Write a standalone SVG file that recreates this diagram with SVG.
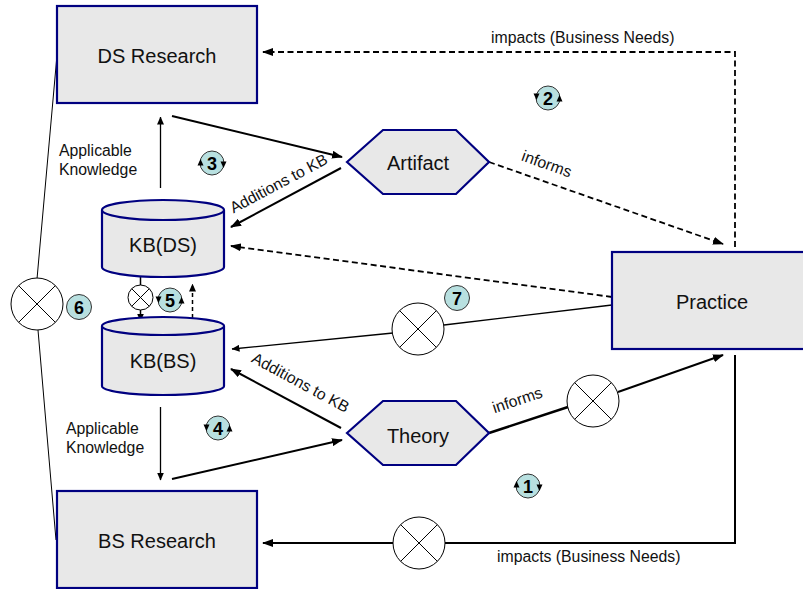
<svg xmlns="http://www.w3.org/2000/svg" width="803" height="589" viewBox="0 0 803 589">
<style>
.box{fill:#e8e8e8;stroke:#000080;stroke-width:2.2}
.lbl{font-family:"Liberation Sans",Arial,sans-serif;font-size:20px;fill:#111;text-anchor:middle}
.sm{font-family:"Liberation Sans",Arial,sans-serif;font-size:15.8px;fill:#111}
.c{fill:none;stroke:#000;stroke-width:2}
.thin{fill:none;stroke:#000;stroke-width:1.3}
.dash{fill:none;stroke:#000;stroke-width:1.8;stroke-dasharray:6,3.5}
.xc{fill:#fff;stroke:#000;stroke-width:1}
.xl{stroke:#000;stroke-width:1}
.badge{fill:#b8e0e0;stroke:#333;stroke-width:1}
.num{font-family:"Liberation Sans",Arial,sans-serif;font-size:18px;font-weight:bold;fill:#000;text-anchor:middle}
</style>
<defs>
<marker id="ah" markerWidth="11" markerHeight="8" refX="10" refY="4" orient="auto" markerUnits="userSpaceOnUse"><path d="M0,0 L11,4 L0,8 Z" fill="#000"/></marker>
<marker id="ahs" markerWidth="8" markerHeight="7" refX="7.5" refY="3.5" orient="auto" markerUnits="userSpaceOnUse"><path d="M0,0 L8,3.5 L0,7 Z" fill="#000"/></marker>
<g id="xcircle"><circle r="26" class="xc"/><line x1="-18.4" y1="-18.4" x2="18.4" y2="18.4" class="xl"/><line x1="-18.4" y1="18.4" x2="18.4" y2="-18.4" class="xl"/></g>
<path id="up" d="M-3,2.5 L3,2.5 L0,-4 Z" fill="#000"/>
<path id="down" d="M-3,-2.5 L3,-2.5 L0,4 Z" fill="#000"/>
</defs>

<g id="connectors">
  <line x1="172" y1="116" x2="342" y2="157" class="c" marker-end="url(#ah)"/>
  <line x1="160.5" y1="188" x2="160.5" y2="117" class="thin" marker-end="url(#ahs)"/>
  <line x1="341" y1="168" x2="231" y2="227" class="c" marker-end="url(#ah)"/>
  <text class="sm" transform="translate(282,190) rotate(-28)" text-anchor="middle" y="-2">Additions to KB</text>
  <line x1="612" y1="297" x2="231" y2="246" class="dash" marker-end="url(#ah)"/>
  <line x1="489" y1="162" x2="723" y2="244" class="dash" marker-end="url(#ah)"/>
  <text class="sm" transform="translate(545,169) rotate(19.5)" text-anchor="middle" y="0">informs</text>
  <polyline points="735,247 735,52 263,52" class="dash" marker-end="url(#ah)"/>
  <text class="sm" x="491" y="43">impacts (Business Needs)</text>
  <line x1="612" y1="305" x2="444" y2="325" class="thin"/>
  <line x1="393" y1="333" x2="232" y2="349" class="thin" marker-end="url(#ahs)"/>
  <line x1="341" y1="428" x2="231" y2="369" class="c" marker-end="url(#ah)"/>
  <text class="sm" transform="translate(297,389) rotate(28.5)" text-anchor="middle" y="-2">Additions to KB</text>
  <line x1="160.5" y1="407" x2="160.5" y2="480" class="thin" marker-end="url(#ahs)"/>
  <line x1="172" y1="479" x2="342" y2="440" class="c" marker-end="url(#ah)"/>
  <line x1="489" y1="433" x2="568" y2="407" stroke="#000" stroke-width="2.6"/>
  <line x1="618" y1="392" x2="723" y2="355" class="c" marker-end="url(#ah)"/>
  <text class="sm" transform="translate(520,408) rotate(-18.5)" text-anchor="middle" y="-3">informs</text>
  <polyline points="735,355 735,543 445,543" class="c"/>
  <line x1="393" y1="543" x2="263" y2="543" class="c" marker-end="url(#ah)"/>
  <text class="sm" x="497" y="562">impacts (Business Needs)</text>
  <line x1="57" y1="55" x2="37" y2="279" stroke="#000" stroke-width="1"/>
  <line x1="38" y1="330" x2="56" y2="540" stroke="#000" stroke-width="1"/>
  <line x1="140.5" y1="277" x2="140.5" y2="285" stroke="#000" stroke-width="1.5"/>
  <line x1="140.5" y1="310" x2="140.5" y2="321" stroke="#000" stroke-width="1.5" marker-end="url(#ahs)"/>
  <line x1="192.5" y1="325" x2="192.5" y2="284" stroke="#000" stroke-width="1.5" stroke-dasharray="4,3" marker-end="url(#ahs)"/>
  <use href="#xcircle" x="37" y="304"/>
  <use href="#xcircle" x="418" y="329"/>
  <use href="#xcircle" x="593" y="401"/>
  <use href="#xcircle" x="419" y="543"/>
  <g transform="translate(140.5,297.5)"><circle r="12.5" class="xc"/><line x1="-8.8" y1="-8.8" x2="8.8" y2="8.8" class="xl"/><line x1="-8.8" y1="8.8" x2="8.8" y2="-8.8" class="xl"/></g>
</g>

<g id="ds-research"><rect x="57" y="6" width="200" height="97" class="box"/><text class="lbl" x="157" y="63">DS Research</text></g>
<g id="bs-research"><rect x="57" y="491" width="200" height="97" class="box"/><text class="lbl" x="157" y="548">BS Research</text></g>
<g id="practice"><rect x="612" y="252" width="200" height="97" class="box"/><text class="lbl" x="712" y="309">Practice</text></g>
<g id="artifact"><polygon points="347,162 383,130 456,130 489,162 456,194 383,194" class="box"/><text class="lbl" x="418" y="170">Artifact</text></g>
<g id="theory"><polygon points="347,433 383,401 456,401 489,433 456,465 383,465" class="box"/><text class="lbl" x="418" y="443">Theory</text></g>
<g id="kb-ds"><path d="M102,210 L102,267 A61,10 0 0 0 224,267 L224,210" class="box"/><ellipse cx="163" cy="210" rx="61" ry="10" class="box"/><text class="lbl" x="163" y="252">KB(DS)</text></g>
<g id="kb-bs"><path d="M102,326 L102,386 A61,9 0 0 0 224,386 L224,326" class="box"/><ellipse cx="163" cy="326" rx="61" ry="9" class="box"/><text class="lbl" x="163" y="368">KB(BS)</text></g>

<g id="badge-1" transform="translate(528,486)"><circle r="12" class="badge"/><text class="num" y="6.5">1</text><use href="#up" x="-11.5" y="-1"/><use href="#down" x="11.5" y="1"/></g>
<g id="badge-2" transform="translate(548,98)"><circle r="12" class="badge"/><text class="num" y="6.5">2</text><use href="#down" x="-11.5" y="-2"/><use href="#up" x="11.5" y="1"/></g>
<g id="badge-3" transform="translate(212,163)"><circle r="12" class="badge"/><text class="num" y="6.5">3</text><use href="#up" x="-11.5" y="0"/><use href="#down" x="11.5" y="1"/></g>
<g id="badge-4" transform="translate(218,428)"><circle r="12" class="badge"/><text class="num" y="6.5">4</text><use href="#down" x="-11.5" y="-1"/><use href="#up" x="11.5" y="1"/></g>
<g id="badge-5" transform="translate(170,300)"><circle r="12" class="badge"/><text class="num" y="6.5">5</text><use href="#down" x="-11.5" y="-1"/><use href="#up" x="11.5" y="1"/></g>
<g id="badge-6" transform="translate(79,307)"><circle r="12.5" class="badge"/><text class="num" y="6.5">6</text></g>
<g id="badge-7" transform="translate(457,298)"><circle r="12.5" class="badge"/><text class="num" y="6.5">7</text></g>

<g id="labels">
  <text class="sm" x="59" y="156">Applicable</text>
  <text class="sm" x="59" y="175">Knowledge</text>
  <text class="sm" x="66" y="434">Applicable</text>
  <text class="sm" x="66" y="453">Knowledge</text>
</g>
</svg>
